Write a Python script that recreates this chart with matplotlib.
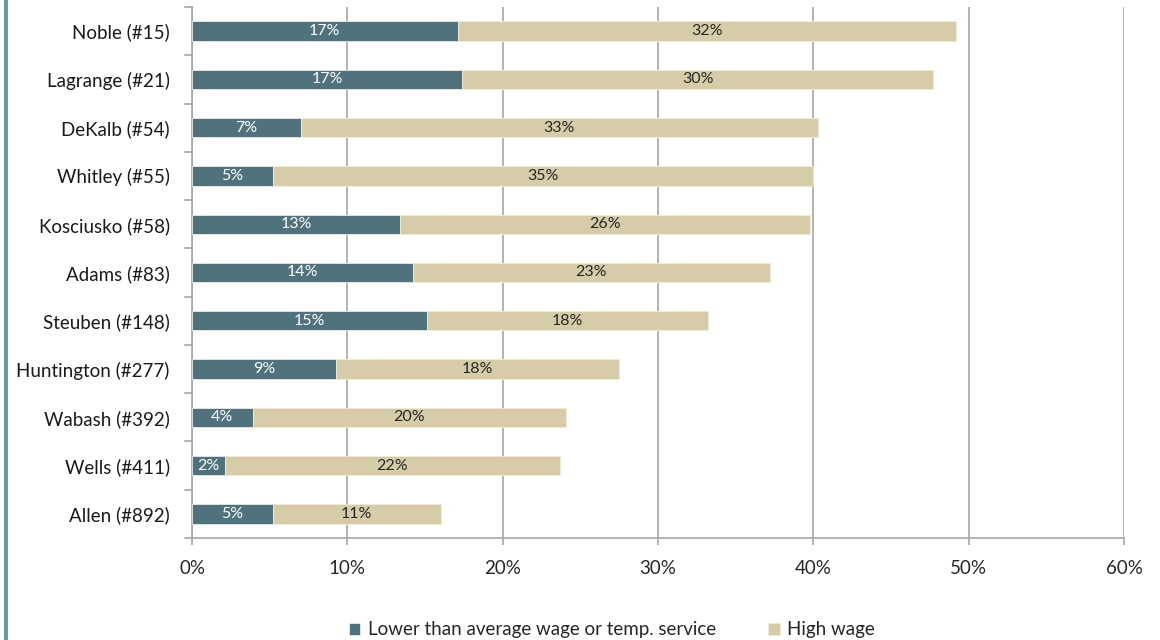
import matplotlib
matplotlib.use("Agg")
import matplotlib.pyplot as plt
import matplotlib.lines as mlines

plt.rcParams['font.family'] = ['Lato', 'DejaVu Sans']

counties = ["Noble (#15)", "Lagrange (#21)", "DeKalb (#54)", "Whitley (#55)",
            "Kosciusko (#58)", "Adams (#83)", "Steuben (#148)", "Huntington (#277)",
            "Wabash (#392)", "Wells (#411)", "Allen (#892)"]
low_wage = [17.1, 17.4, 7.0, 5.2, 13.4, 14.2, 15.1, 9.3, 3.9, 2.1, 5.2]
high_wage = [32.1, 30.3, 33.3, 34.8, 26.4, 23.0, 18.1, 18.2, 20.2, 21.6, 10.8]
xticks = [0, 10, 20, 30, 40, 50, 60]
xticklabels = ["0%", "10%", "20%", "30%", "40%", "50%", "60%"]
series_names = ["Lower than average wage or temp. service", "High wage"]

dark = "#50727C"
light = "#D6CDA8"

fig = plt.figure(figsize=(11.6, 6.4), dpi=100)
ax = fig.add_axes([192/1160, 1 - 538/640, (1124-192)/1160, (538-7)/640])

n = len(counties)
ypos = list(range(n))[::-1]
bh = 0.4
b1 = ax.barh(ypos, low_wage, height=bh, color=dark, edgecolor="#E8E8E8", linewidth=0.6, zorder=3)
b2 = ax.barh(ypos, high_wage, left=low_wage, height=bh, color=light, edgecolor="#EFEADA", linewidth=0.6, zorder=3)

for y, a, b in zip(ypos, low_wage, high_wage):
    ax.text(a/2, y, f"{round(a):.0f}%", ha="center", va="center", color="white", fontsize=11.5, zorder=4)
    ax.text(a + b/2, y, f"{round(b):.0f}%", ha="center", va="center", color="#262626", fontsize=11.5, zorder=4)

ax.set_xlim(0, 60)
ax.set_ylim(-0.5, n - 0.5)
ax.set_xticks(xticks)
ax.set_xticklabels(xticklabels, fontsize=13.5, color="#262626")
ax.set_yticks(ypos)
ax.set_yticklabels(counties, fontsize=13.5, color="#1a1a1a")
ax.tick_params(axis="y", length=0, pad=16)
ax.tick_params(axis="x", length=5, color="#A6A6A6", width=1.2, pad=11)
ax.xaxis.grid(True, color="#A6A6A6", linewidth=1.2, zorder=0)
ax.set_axisbelow(True)
for s in ["top", "right"]:
    ax.spines[s].set_visible(False)
ax.spines["left"].set_color("#A6A6A6")
ax.spines["left"].set_linewidth(1.2)
ax.spines["bottom"].set_color("#A6A6A6")
ax.spines["bottom"].set_linewidth(1.2)

# category boundary ticks on y axis (Excel style)
for k in range(n + 1):
    yb = k - 0.5
    ax.plot([-0.45, 0], [yb, yb], color="#A6A6A6", linewidth=1.2, clip_on=False, zorder=2)

# left decorative border
fig.add_artist(mlines.Line2D([6/1160, 6/1160], [0, 1], color="#6E98A6", linewidth=3))

leg = fig.legend([b1, b2], series_names, loc="center", bbox_to_anchor=(612/1160, 1 - 630/640),
                 ncol=2, frameon=False, fontsize=13.5, handlelength=0.6, handleheight=0.6,
                 columnspacing=2.8, handletextpad=0.4)
for t in leg.get_texts():
    t.set_color("#262626")

fig.savefig("out.png", dpi=100)
